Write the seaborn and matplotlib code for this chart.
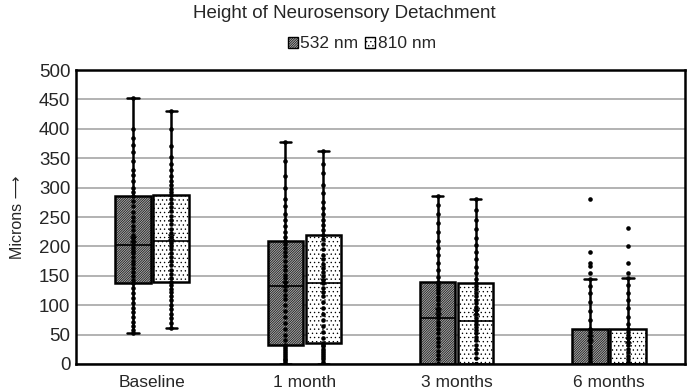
import numpy as np
import pandas as pd
import seaborn as sns
import matplotlib.pyplot as plt
from matplotlib.patches import Patch

# Follow-up time points and laser groups
categories = ["Baseline", "1 month", "3 months", "6 months"]
lasers = ["532 nm", "810 nm"]

# Height of neurosensory detachment (microns)
baseline_532 = [52, 58, 65, 72, 80, 88, 95, 103, 112, 120, 130, 138, 143, 150, 156, 163, 170, 176, 182, 188,
                193, 198, 202, 208, 215, 220, 228, 235, 243, 250, 258, 268, 278, 286, 292, 300, 312, 322, 330,
                345, 360, 372, 385, 400, 453]
baseline_810 = [62, 70, 78, 85, 93, 100, 108, 115, 122, 128, 134, 140, 147, 153, 160, 168, 175, 182, 188, 195,
                200, 205, 210, 216, 222, 230, 238, 245, 252, 260, 267, 274, 281, 288, 293, 298, 305, 312, 320,
                330, 340, 352, 370, 400, 430]
month1_532 = [0, 0, 3, 6, 9, 12, 15, 18, 22, 26, 29, 32, 40, 50, 60, 70, 80, 90, 100, 110, 118, 126, 133, 140,
              146, 152, 160, 167, 175, 183, 190, 197, 204, 210, 216, 225, 235, 245, 255, 268, 280, 300, 320,
              345, 377]
month1_810 = [0, 0, 4, 8, 12, 15, 18, 22, 26, 30, 33, 35, 45, 55, 65, 75, 85, 95, 105, 115, 123, 130, 137, 143,
              150, 157, 163, 170, 178, 186, 195, 204, 212, 220, 228, 236, 245, 255, 265, 275, 290, 305, 325,
              340, 363]
month3_532 = [0] * 12 + [8, 15, 22, 30, 38, 45, 52, 60, 66, 72, 78, 84, 90, 96, 102, 108, 114, 120, 126, 131,
                         136, 140, 148, 160, 172, 185, 198, 210, 225, 240, 255, 270, 285]
month3_810 = [0] * 12 + [10, 18, 25, 32, 40, 46, 52, 58, 63, 68, 73, 79, 85, 91, 97, 103, 109, 115, 121, 127,
                         133, 138, 145, 155, 165, 178, 190, 203, 215, 230, 245, 262, 280]
month6_532 = [0] * 23 + [5, 10, 15, 20, 25, 30, 37, 43, 49, 55, 60, 75, 90, 105, 120, 133, 144, 155, 167, 172,
                         190, 280]
month6_810 = [0] * 23 + [4, 9, 14, 20, 26, 32, 38, 44, 50, 55, 59, 68, 80, 95, 108, 120, 135, 147, 155, 172,
                         200, 232]

series = {
    ("Baseline", "532 nm"): baseline_532, ("Baseline", "810 nm"): baseline_810,
    ("1 month", "532 nm"): month1_532, ("1 month", "810 nm"): month1_810,
    ("3 months", "532 nm"): month3_532, ("3 months", "810 nm"): month3_810,
    ("6 months", "532 nm"): month6_532, ("6 months", "810 nm"): month6_810,
}

# long table, each box sits at category index +/- offset
offset = {"532 nm": -0.125, "810 nm": 0.125}
rows = []
for (cat, laser), vals in series.items():
    for v in vals:
        rows.append({"pos": categories.index(cat) + offset[laser], "Laser": laser, "Microns": v})
df = pd.DataFrame(rows)

sns.set_style("white")
plt.rcParams["font.family"] = ["Liberation Sans", "DejaVu Sans"]
plt.rcParams["hatch.linewidth"] = 0.45

fig = plt.figure(figsize=(6.88, 3.89), dpi=100)
ax = fig.add_axes([0.1105, 0.0643, 0.8852, 0.7557])

colors = {"532 nm": "#a8a8a8", "810 nm": "#ffffff"}
hatches = {"532 nm": "/" * 14, "810 nm": "." * 4}

sns.boxplot(data=df, x="pos", y="Microns", hue="Laser", native_scale=True, dodge=False,
            width=0.93, palette=colors, linecolor="black", linewidth=1.8, showfliers=False,
            showmeans=True, whis=1.5,
            meanprops=dict(marker="x", markeredgecolor="black", markersize=4, markeredgewidth=1),
            medianprops=dict(linewidth=1.2), legend=False, ax=ax)

for p in ax.patches:
    fc = p.get_facecolor()
    p.set_hatch(hatches["532 nm"] if fc[0] < 0.9 else hatches["810 nm"])
    p.set_edgecolor("black")

# narrower whisker caps, like the original
box_w = 0.93 * 0.25
for ln in ax.lines:
    xd, yd = np.asarray(ln.get_xdata(), float), np.asarray(ln.get_ydata(), float)
    if len(xd) == 2 and yd[0] == yd[1] and 0 < abs(xd[1] - xd[0]) < 0.8 * box_w:
        c = xd.mean()
        ln.set_xdata([c - 0.16 * box_w, c + 0.16 * box_w])

sns.stripplot(data=df, x="pos", y="Microns", native_scale=True, jitter=False, color="black",
              size=3.3, ax=ax)

ax.set_xlim(-0.5, 3.5)
ax.set_ylim(0, 500)
ax.set_yticks(range(0, 501, 50))
ax.set_xticks(range(len(categories)))
ax.set_xticklabels(categories, fontsize=12.5)
ax.tick_params(axis="y", labelsize=13.5, length=0, pad=4)
ax.tick_params(axis="x", length=0, pad=8)
ax.yaxis.grid(True, color="#a6a6a6", linewidth=1.2)
ax.set_axisbelow(True)
for s in ax.spines.values():
    s.set_visible(True)
    s.set_color("black")
    s.set_linewidth(1.8)
ax.set_xlabel("")
ax.set_ylabel("Microns \u27f6", fontsize=11.5, labelpad=10)

fig.text(0.5, 1 - 13 / 389, "Height of Neurosensory Detachment", ha="center", va="center", fontsize=13.5)

handles = [Patch(facecolor=colors[l], edgecolor="black", hatch=hatches[l], label=l) for l in lasers]
fig.legend(handles=handles, loc="center", bbox_to_anchor=(362 / 688, 1 - 44 / 389), ncol=2,
           frameon=False, fontsize=12.5, handlelength=0.55, handleheight=0.55, handletextpad=0.15,
           columnspacing=0.4, borderpad=0)

fig.savefig("out.png", dpi=100)
